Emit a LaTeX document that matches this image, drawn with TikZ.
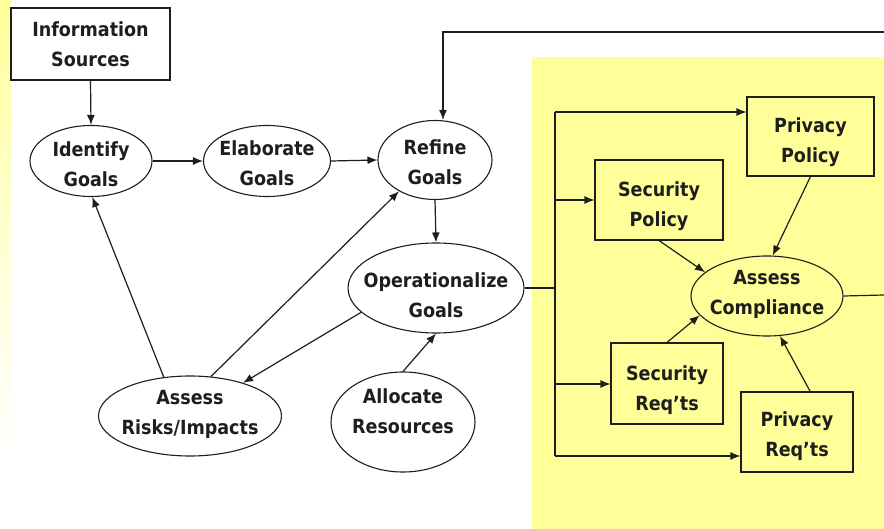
\documentclass[tikz,border=0pt]{standalone}
\usepackage{fontspec}
\setmainfont{DejaVu Sans Condensed}
\usetikzlibrary{shapes.geometric,arrows.meta}
\definecolor{panel}{HTML}{FFFF99}
\definecolor{ink}{HTML}{1E1E1E}
\begin{document}
\begin{tikzpicture}[x=1pt,y=-1pt,
  every node/.style={font=\fontsize{19.5}{30}\selectfont\bfseries, text=ink, align=center, inner sep=0pt},
  proc/.style={ellipse, draw=ink, line width=1.1pt},
  box/.style={rectangle, draw=ink, line width=1.1pt},
  size/.style 2 args={minimum width=#1, minimum height=#2},
  link/.style={draw=ink, line width=1.2pt},
  arr/.style={link, -{Latex[length=10pt,width=8pt]}}]
  % canvas and background panels
  \useasboundingbox (0,0) rectangle (884,529);
  \fill[white] (0,0) rectangle (884,529);
  \shade[top color=panel, bottom color=white, middle color=panel!45] (0,0) rectangle (11,460);
  \fill[panel] (532,57) rectangle (884,529);

  % goal-analysis nodes (fixed outlines, captions set as centred labels)
  \node[box, fill=white, size={159pt}{72pt},
        label={center:Information\\Sources}] (info) at (90.5,44) {};
  \node[proc, fill=white, size={122pt}{71pt},
        label={[yshift=-3pt]center:Identify\\Goals}] (identify) at (91,161) {};
  \node[proc, fill=white, size={127pt}{71pt},
        label={[yshift=-2pt]center:Elaborate\\Goals}] (elaborate) at (267,161) {};
  \node[proc, fill=white, size={114pt}{79pt},
        label={[yshift=-2pt]center:Refine\\Goals}] (refine) at (435,160) {};
  \node[proc, fill=white, size={176pt}{90pt},
        label={[yshift=-7pt]center:Operationalize\\Goals}] (oper) at (436,288) {};
  \node[proc, fill=white, size={144pt}{100pt},
        label={[yshift=11pt]center:Allocate\\Resources}] (alloc) at (403,422) {};
  \node[proc, fill=white, size={183pt}{80pt},
        label={[yshift=2pt]center:Assess\\Risks/Impacts}] (risks) at (190,416) {};

  % compliance nodes
  \node[proc, fill=panel, size={152pt}{80pt},
        label={[yshift=2pt]center:Assess\\Compliance}] (comp) at (767,296) {};
  \node[box, fill=panel, size={127pt}{79pt},
        label={[yshift=-6pt]center:Privacy\\Policy}] (privpol) at (810.5,136.5) {};
  \node[box, fill=panel, size={128pt}{80pt},
        label={[yshift=-6pt]center:Security\\Policy}] (secpol) at (659,200) {};
  \node[box, fill=panel, size={112pt}{81pt},
        label={[yshift=-7pt]center:Security\\Req’ts}] (secreq) at (667,383.5) {};
  \node[box, fill=panel, size={112pt}{80pt},
        label={[yshift=-4pt]center:Privacy\\Req’ts}] (privreq) at (797,432) {};

  % goal-analysis flow
  \draw[arr] (info.south) -- (identify.north);
  \draw[arr] (identify.east) -- (elaborate.west);
  \draw[arr] (elaborate.east) -- (refine.west);
  \draw[arr] (refine.south) -- (oper.north);
  \draw[arr] (oper.198) -- (risks.32.7);
  \draw[arr] (risks.124.7) -- (identify.-88);
  \draw[arr] (risks.62.3) -- (refine.221.5);
  \draw[arr] (alloc.north) -- (oper.south);

  % feedback loop along the top
  \coordinate (fbR) at (884,32);
  \coordinate (fbL) at (443,32);
  \draw[arr] (fbR) -- (fbL) -- (fbL |- refine.north);

  % distribution bus into the compliance panel
  \coordinate (busT) at (555,112);
  \coordinate (busB) at (555,456);
  \coordinate (jo) at (555,288);
  \coordinate (j1) at (555,200);
  \coordinate (j2) at (555,384);
  \draw[link] (oper.east) -- (jo);
  \draw[link] (busT) -- (busB);
  \draw[arr] (busT) -- (busT -| privpol.west);
  \draw[arr] (j1) -- (j1 -| secpol.west);
  \draw[arr] (j2) -- (j2 -| secreq.west);
  \draw[arr] (busB) -- (busB -| privreq.west);

  % inputs to the compliance check
  \draw[arr] (secpol.south) -- (comp.159.6);
  \draw[arr] (privpol.south) -- (comp.82.9);
  \draw[arr] (secreq.north) -- (comp.196);
  \draw[arr] (privreq.72) -- (comp.-72.4);

  % compliance result leaving to the right
  \coordinate (cR) at (884,295);
  \draw[link] (comp.east) -- (cR);
\end{tikzpicture}
\end{document}
